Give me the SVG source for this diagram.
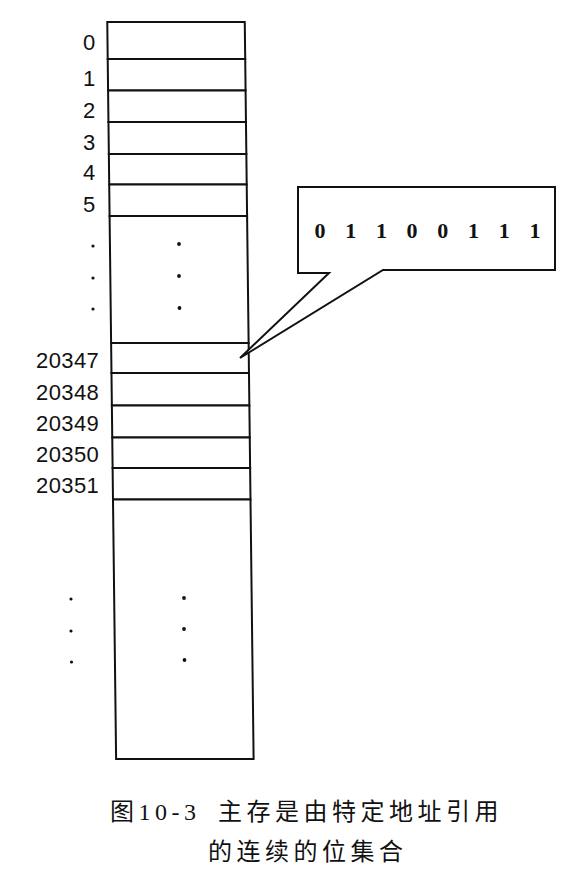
<svg xmlns="http://www.w3.org/2000/svg" width="572" height="880" viewBox="0 0 572 880">
<style>
.cell{fill:#fff;stroke:#111;stroke-width:2}
.lbl{font-family:"Liberation Sans",Arial,sans-serif;font-size:22px;letter-spacing:0.4px;fill:#111}
.dot{fill:#111}
.bits{font-family:"Liberation Serif","DejaVu Serif",serif;font-weight:bold;font-size:22px;letter-spacing:7.1px;fill:#111}
.cap{font-family:"Liberation Serif","Noto Sans CJK SC",serif;font-size:24px;letter-spacing:4.5px;fill:#111}
.call{fill:#fff;stroke:#111;stroke-width:2;stroke-linejoin:miter}
</style>
<rect width="572" height="880" fill="#fff"/>
<g id="memory" transform="matrix(1,0,0.012,1,0,0)">
  <rect id="cell-0" class="cell" x="107" y="22" width="137.5" height="37"/>
  <rect id="cell-1" class="cell" x="107" y="59" width="137.5" height="31.5"/>
  <rect id="cell-2" class="cell" x="107" y="90.5" width="137.5" height="31.5"/>
  <rect id="cell-3" class="cell" x="107" y="122" width="137.5" height="32"/>
  <rect id="cell-4" class="cell" x="107" y="154" width="137.5" height="30.5"/>
  <rect id="cell-5" class="cell" x="107" y="184.5" width="137.5" height="31.5"/>
  <rect id="cells-gap-1" class="cell" x="107" y="216" width="137.5" height="127"/>
  <rect id="cell-20347" class="cell" x="107" y="343" width="137.5" height="30"/>
  <rect id="cell-20348" class="cell" x="107" y="373" width="137.5" height="32.5"/>
  <rect id="cell-20349" class="cell" x="107" y="405.5" width="137.5" height="32"/>
  <rect id="cell-20350" class="cell" x="107" y="437.5" width="137.5" height="30.5"/>
  <rect id="cell-20351" class="cell" x="107" y="468" width="137.5" height="31.5"/>
  <rect id="cells-gap-2" class="cell" x="107" y="499.5" width="137.5" height="259.5"/>
</g>
<g id="addresses">
  <text class="lbl" x="83" y="50">0</text>
  <text class="lbl" x="83" y="86">1</text>
  <text class="lbl" x="83" y="117.5">2</text>
  <text class="lbl" x="83" y="150">3</text>
  <text class="lbl" x="83" y="180">4</text>
  <text class="lbl" x="83" y="212">5</text>
  <text class="lbl" x="36" y="368">20347</text>
  <text class="lbl" x="36" y="399.5">20348</text>
  <text class="lbl" x="36" y="431">20349</text>
  <text class="lbl" x="36" y="461.5">20350</text>
  <text class="lbl" x="36" y="493">20351</text>
</g>
<g id="ellipses">
  <circle class="dot" cx="93" cy="246" r="1.6"/>
  <circle class="dot" cx="93" cy="278" r="1.6"/>
  <circle class="dot" cx="93" cy="309" r="1.6"/>
  <circle class="dot" cx="179" cy="244" r="1.9"/>
  <circle class="dot" cx="179" cy="276" r="1.9"/>
  <circle class="dot" cx="179.5" cy="308" r="1.9"/>
  <circle class="dot" cx="71" cy="599" r="1.6"/>
  <circle class="dot" cx="71" cy="631" r="1.6"/>
  <circle class="dot" cx="71.5" cy="662" r="1.6"/>
  <circle class="dot" cx="184" cy="598" r="1.9"/>
  <circle class="dot" cx="184" cy="629" r="1.9"/>
  <circle class="dot" cx="184.5" cy="660" r="1.9"/>
</g>
<g id="callout">
  <path class="call" d="M298,187 H555 V270 H383 L240,358 L329,273 H298 Z"/>
  <text class="bits" x="314.5" y="238">0 1 1 0 0 1 1 1</text>
</g>
<g id="caption">
  <text class="cap" y="820"><tspan x="110">图10-3</tspan><tspan x="218">主存是由特定地址引用</tspan></text>
  <text class="cap" x="208" y="860">的连续的位集合</text>
</g>
</svg>
